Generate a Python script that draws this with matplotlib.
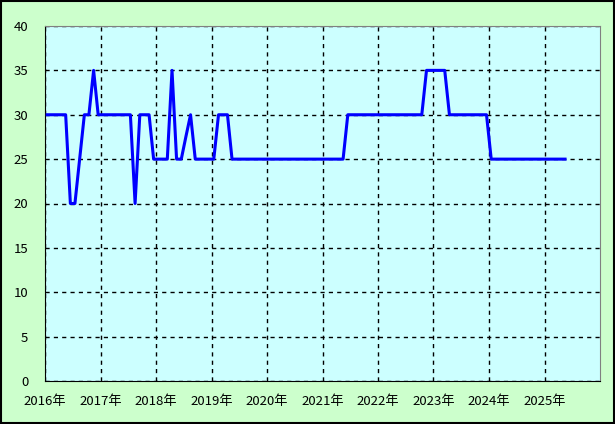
import matplotlib
matplotlib.use('Agg')
import matplotlib.pyplot as plt
import matplotlib.dates as mdates
import pandas as pd
from matplotlib.patches import Rectangle

plt.rcParams['font.family'] = ['Noto Sans CJK JP', 'DejaVu Sans']

# monthly values, Jan 2016 - May 2025
values_2016 = [30, 30, 30, 30, 30, 20, 20, 25, 30, 30, 35, 30]
values_2017 = [30, 30, 30, 30, 30, 30, 30, 20, 30, 30, 30, 25]
values_2018 = [25, 25, 25, 35, 25, 25, 27.5, 30, 25, 25, 25, 25]
values_2019 = [25, 30, 30, 30, 25, 25, 25, 25, 25, 25, 25, 25]
values_2020 = [25, 25, 25, 25, 25, 25, 25, 25, 25, 25, 25, 25]
values_2021 = [25, 25, 25, 25, 25, 30, 30, 30, 30, 30, 30, 30]
values_2022 = [30, 30, 30, 30, 30, 30, 30, 30, 30, 30, 35, 35]
values_2023 = [35, 35, 35, 30, 30, 30, 30, 30, 30, 30, 30, 30]
values_2024 = [25, 25, 25, 25, 25, 25, 25, 25, 25, 25, 25, 25]
values_2025 = [25, 25, 25, 25, 25]

values = (values_2016 + values_2017 + values_2018 + values_2019 + values_2020
          + values_2021 + values_2022 + values_2023 + values_2024 + values_2025)
# points sit in the middle of each month
dates = pd.date_range('2016-01-01', periods=len(values), freq='MS') + pd.Timedelta(days=15)

years = list(range(2016, 2026))
y_ticks = [0, 5, 10, 15, 20, 25, 30, 35, 40]

fig = plt.figure(figsize=(6.15, 4.24), dpi=100, facecolor='#CCFFCC')
ax = fig.add_axes([45 / 615, 43 / 424, 555 / 615, 355 / 424])
ax.set_facecolor('#CCFFFF')

ax.plot(dates, values, color='#0000FF', linewidth=2.2, zorder=3)

ax.set_xlim(pd.Timestamp('2016-01-01'), pd.Timestamp('2026-01-01'))
ax.set_ylim(0, 40)
ax.set_yticks(y_ticks)
ax.set_xticks([pd.Timestamp(f'{y}-01-01') for y in years])
ax.xaxis.set_major_formatter(mdates.DateFormatter('%Y年'))

ax.grid(True, color='black', linestyle=(0, (3, 3)), linewidth=1, zorder=1)
ax.tick_params(length=0, labelsize=9.5, colors='black')
ax.tick_params(axis='y', pad=12)
ax.tick_params(axis='x', pad=10)

ax.spines['left'].set_color('black')
ax.spines['bottom'].set_color('black')
ax.spines['top'].set_color('#808080')
ax.spines['right'].set_color('#808080')

# black frame around the whole figure
fig.patches.append(Rectangle((0.0015, 0.002), 0.997, 0.996, transform=fig.transFigure,
                             fill=False, edgecolor='black', linewidth=1.5))

fig.savefig('out.png', dpi=100, facecolor=fig.get_facecolor())
